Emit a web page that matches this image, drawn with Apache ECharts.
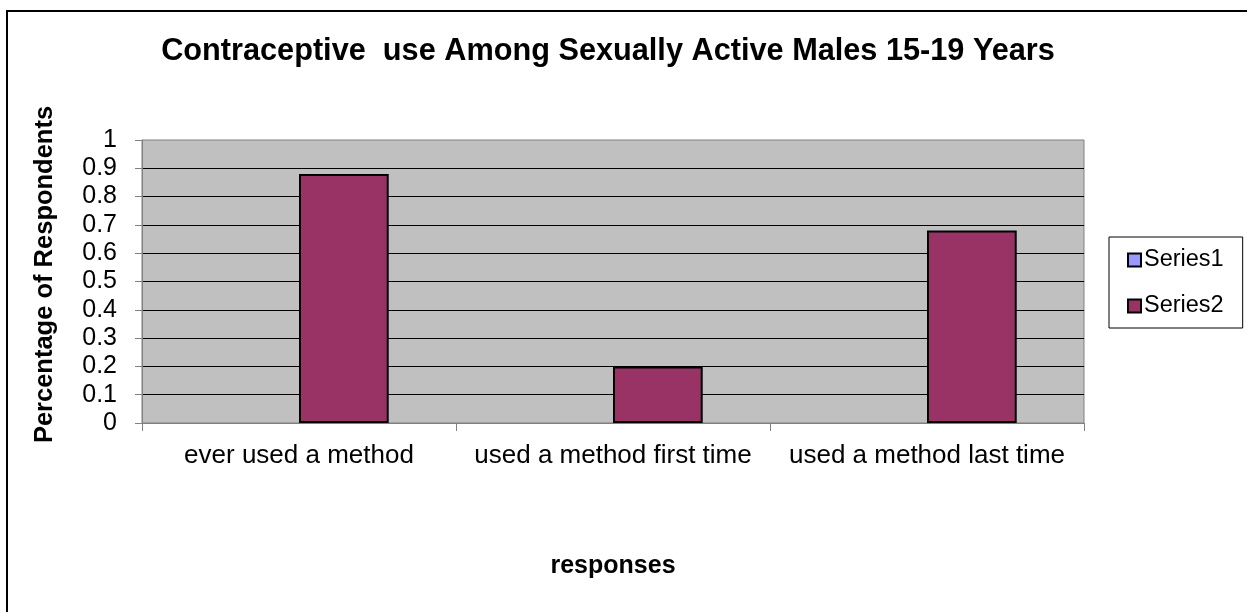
<!DOCTYPE html>
<html>
<head>
<meta charset="utf-8">
<script src="https://cdn.jsdelivr.net/npm/echarts@6/dist/echarts.min.js"></script>
<style>
html,body{margin:0;padding:0;background:#fff;}
#chart{width:1247px;height:612px;}
</style>
</head>
<body>
<div id="chart"></div>
<script>
const titleText = 'Contraceptive  use Among Sexually Active Males 15-19 Years';
const categories = ['ever used a method', 'used a method first time', 'used a method last time'];
const series1Values = [null, null, null];
const series2Values = [0.88, 0.20, 0.68];
const seriesNames = ['Series1', 'Series2'];
const xAxisTitle = 'responses';
const yAxisTitle = 'Percentage of Respondents';

const FONT = '"Liberation Sans", Arial, sans-serif';
const chart = echarts.init(document.getElementById('chart'), null, {renderer: 'canvas'});
chart.setOption({
  animation: false,
  backgroundColor: '#fff',
  textStyle: {fontFamily: FONT, color: '#000'},
  title: {
    text: titleText,
    left: 603, top: 31, textAlign: 'center',
    textStyle: {fontFamily: FONT, fontSize: 30.7, fontWeight: 'bold', color: '#000'}
  },
  graphic: [{
    type: 'rect', silent: true, z: -1,
    shape: {x: 7, y: 11, width: 1300, height: 700},
    style: {fill: 'none', stroke: '#000', lineWidth: 2}
  }],
  legend: {
    orient: 'vertical',
    left: 1109, top: 237,
    padding: [11, 19, 10, 18],
    itemGap: 22,
    itemWidth: 13, itemHeight: 13,
    icon: 'rect',
    borderColor: '#000', borderWidth: 1,
    backgroundColor: '#fff',
    textStyle: {fontFamily: FONT, fontSize: 23.5, color: '#000', lineHeight: 23, padding: [0,0,0,-2]},
    data: seriesNames
  },
  grid: {
    left: 142, top: 140, width: 942, height: 283,
    show: true, backgroundColor: '#C0C0C0', borderColor: '#808080', borderWidth: 1,
    containLabel: false
  },
  xAxis: {
    type: 'category', data: categories,
    name: xAxisTitle, nameLocation: 'middle', nameGap: 131,
    nameTextStyle: {fontFamily: FONT, fontSize: 25, fontWeight: 'bold', color: '#000'},
    axisLine: {show: true, lineStyle: {color: '#808080', width: 1}},
    axisTick: {show: true, length: 8, lineStyle: {color: '#808080'}},
    axisLabel: {fontFamily: FONT, fontSize: 26, color: '#000', margin: 20, interval: 0},
    splitLine: {show: false}
  },
  yAxis: {
    type: 'value', min: 0, max: 1, interval: 0.1,
    name: yAxisTitle, nameLocation: 'middle', nameGap: 84, nameRotate: 90,
    nameTextStyle: {fontFamily: FONT, fontSize: 25.5, fontWeight: 'bold', color: '#000', padding: [0, 0, 0, 14]},
    axisLine: {show: true, lineStyle: {color: '#808080', width: 1}},
    axisTick: {show: true, length: 7, lineStyle: {color: '#808080'}},
    axisLabel: {fontFamily: FONT, fontSize: 25, color: '#000', margin: 25,
      formatter: v => String(Math.round(v * 10) / 10)},
    splitLine: {show: true, showMinLine: false, showMaxLine: false, lineStyle: {color: '#000', width: 1}}
  },
  series: [
    {
      name: seriesNames[0], type: 'bar', data: series1Values,
      barGap: '0%', barCategoryGap: '42.857%',
      itemStyle: {color: '#9999FF', borderColor: '#000', borderWidth: 2}
    },
    {
      name: seriesNames[1], type: 'bar', data: series2Values,
      barGap: '0%', barCategoryGap: '42.857%',
      itemStyle: {color: '#993366', borderColor: '#000', borderWidth: 2}
    }
  ]
});
</script>
</body>
</html>
